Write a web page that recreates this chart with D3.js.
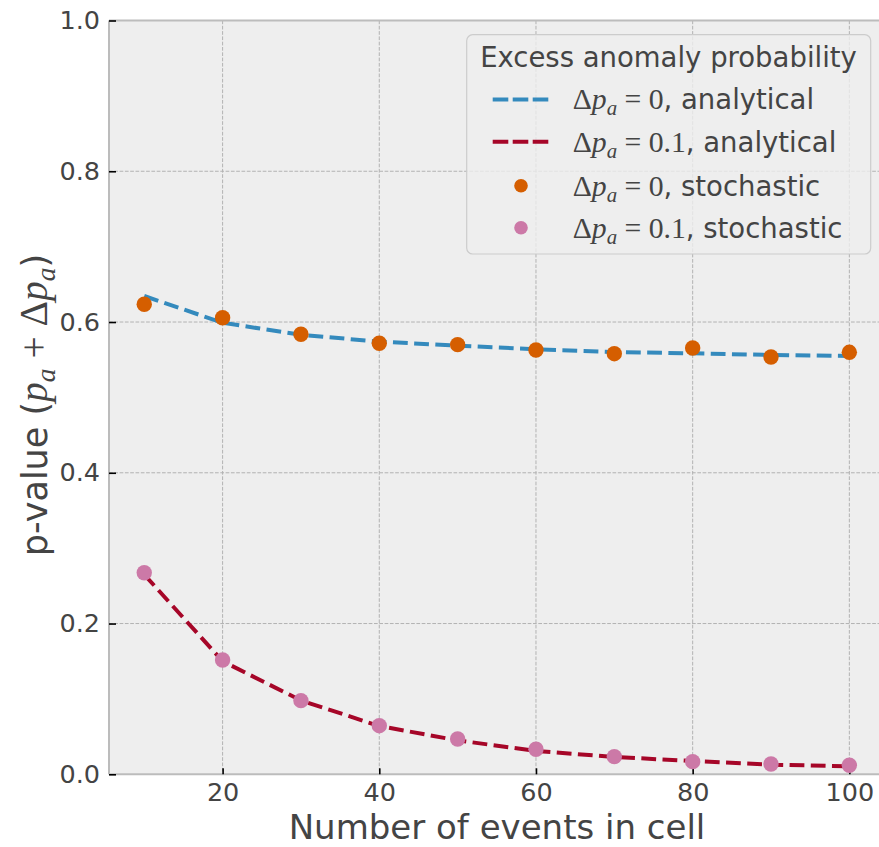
<!DOCTYPE html>
<html>
<head>
<meta charset="utf-8">
<script src="https://cdn.jsdelivr.net/npm/d3@7"></script>
<style>
  html, body { margin: 0; padding: 0; background: #ffffff; }
  svg { display: block; }
  text { font-family: "DejaVu Sans", sans-serif; fill: #444444; }
</style>
</head>
<body>
<svg id="chart" width="879" height="847"></svg>
<script>
// Number of events in a cell
const eventCounts = [10, 20, 30, 40, 50, 60, 70, 80, 90, 100];

// p-values from the analytical expression
const analyticalZero  = [0.6345, 0.599, 0.583, 0.574, 0.5686, 0.5638, 0.5602, 0.5585, 0.5563, 0.555];
const analyticalTenth = [0.265, 0.150, 0.098, 0.064, 0.045, 0.031, 0.023, 0.0176, 0.0128, 0.0106];

// p-values from the stochastic simulation
const stochasticZero  = [0.6235, 0.6057, 0.5837, 0.5718, 0.570, 0.5629, 0.558, 0.5655, 0.5536, 0.5598];
const stochasticTenth = [0.2674, 0.1516, 0.0977, 0.0645, 0.0468, 0.0332, 0.0234, 0.0168, 0.0137, 0.012];

const xTicks = [20, 40, 60, 80, 100];
const yTicks = [0.0, 0.2, 0.4, 0.6, 0.8, 1.0];

const legendTitle = "Excess anomaly probability";
const legendItems = [
  { kind: "line",   color: "#348ABD", delta: "0",   method: "analytical" },
  { kind: "line",   color: "#A60628", delta: "0.1", method: "analytical" },
  { kind: "marker", color: "#D55E00", delta: "0",   method: "stochastic" },
  { kind: "marker", color: "#CC79A7", delta: "0.1", method: "stochastic" }
];

const svg = d3.select("#chart");
const plotLeft = 109, plotRight = 884.6, plotTop = 20.5, plotBottom = 774.3;

const x = d3.scaleLinear().domain([5.5, 104.5]).range([plotLeft, plotRight]);
const y = d3.scaleLinear().domain([0, 1]).range([plotBottom, plotTop]);

// Axes background
svg.append("rect")
  .attr("x", plotLeft).attr("y", plotTop)
  .attr("width", plotRight - plotLeft).attr("height", plotBottom - plotTop)
  .attr("fill", "#eeeeee");

// Grid
const grid = svg.append("g")
  .attr("stroke", "#b2b2b2").attr("stroke-width", 1)
  .attr("stroke-dasharray", "3.7 1.6");
grid.selectAll(".gx").data(xTicks).enter().append("line")
  .attr("x1", d => x(d)).attr("x2", d => x(d))
  .attr("y1", plotTop).attr("y2", plotBottom);
grid.selectAll(".gy").data(yTicks.filter(d => d > 0 && d < 1)).enter().append("line")
  .attr("x1", plotLeft).attr("x2", plotRight)
  .attr("y1", d => y(d)).attr("y2", d => y(d));

// Spines
const spine = (x1, x2, y1, y2) => svg.append("line")
  .attr("x1", x1).attr("x2", x2).attr("y1", y1).attr("y2", y2)
  .attr("stroke", "#bcbcbc").attr("stroke-width", 2);
spine(plotLeft, plotRight, plotTop, plotTop);
spine(plotLeft, plotRight, plotBottom, plotBottom);
spine(plotLeft, plotLeft, plotTop, plotBottom);

// Axes with inward ticks
const xAxis = svg.append("g").attr("transform", `translate(0,${plotBottom})`)
  .call(d3.axisBottom(x).tickValues(xTicks).tickFormat(d3.format("d"))
    .tickSize(-6).tickPadding(8.4));
const yAxis = svg.append("g").attr("transform", `translate(${plotLeft},0)`)
  .call(d3.axisLeft(y).tickValues(yTicks).tickFormat(d3.format(".1f"))
    .tickSize(-7).tickPadding(9));
[xAxis, yAxis].forEach(g => {
  g.select(".domain").remove();
  g.selectAll(".tick line").attr("stroke", "#000000").attr("stroke-width", 1.6);
  g.selectAll(".tick text")
    .attr("fill", "#444444")
    .style("font-family", "DejaVu Sans")
    .style("font-size", "25.5px");
});

// Series
const pairs = vals => eventCounts.map((c, i) => [c, vals[i]]);
const line = d3.line().x(d => x(d[0])).y(d => y(d[1]));

const plot = svg.append("g");
plot.append("path").datum(pairs(analyticalZero))
  .attr("d", line).attr("fill", "none")
  .attr("stroke", "#348ABD").attr("stroke-width", 4)
  .attr("stroke-dasharray", "14.8 6.4");
plot.append("path").datum(pairs(analyticalTenth))
  .attr("d", line).attr("fill", "none")
  .attr("stroke", "#A60628").attr("stroke-width", 4)
  .attr("stroke-dasharray", "14.8 6.4");
plot.selectAll(".sz").data(pairs(stochasticZero)).enter().append("circle")
  .attr("cx", d => x(d[0])).attr("cy", d => y(d[1])).attr("r", 7.7)
  .attr("fill", "#D55E00");
plot.selectAll(".st").data(pairs(stochasticTenth)).enter().append("circle")
  .attr("cx", d => x(d[0])).attr("cy", d => y(d[1])).attr("r", 7.7)
  .attr("fill", "#CC79A7");

// Mathtext-like label pieces: Δp_a = value
const mathFont = "Liberation Serif";
function appendDeltaP(t, size, value) {
  t.append("tspan").text("Δ").style("font-family", mathFont).style("font-size", size * 1.08 + "px");
  t.append("tspan").text("p").style("font-family", mathFont).style("font-style", "italic")
    .style("font-size", size * 1.08 + "px");
  t.append("tspan").text("a").style("font-family", mathFont).style("font-style", "italic")
    .style("font-size", size * 0.76 + "px").attr("dy", size * 0.22);
  t.append("tspan").text(" = " + value).style("font-family", mathFont)
    .style("font-size", size * 1.08 + "px").attr("dy", -size * 0.22);
}

// Legend
const lg = svg.append("g");
lg.append("rect")
  .attr("x", 466.7).attr("y", 34.7).attr("width", 404).attr("height", 219.3)
  .attr("rx", 6).attr("fill", "#eeeeee").attr("fill-opacity", 0.8)
  .attr("stroke", "#cccccc").attr("stroke-width", 1.2);
lg.append("text").attr("x", 668.5).attr("y", 66.7).attr("text-anchor", "middle")
  .style("font-size", "27.5px").text(legendTitle);

const rowY = [99.5, 141.7, 185.7, 227.7];
legendItems.forEach((it, i) => {
  const cy = rowY[i];
  if (it.kind === "line") {
    lg.append("line").attr("x1", 492.7).attr("x2", 548.3).attr("y1", cy).attr("y2", cy)
      .attr("stroke", it.color).attr("stroke-width", 4)
      .attr("stroke-dasharray", "15.6 4.4");
  } else {
    lg.append("circle").attr("cx", 521).attr("cy", cy).attr("r", 6.8).attr("fill", it.color);
  }
  const t = lg.append("text").attr("x", 572.7).attr("y", cy + 9.8).style("font-size", "27.5px");
  appendDeltaP(t, 27.5, it.delta);
  t.append("tspan").text(", " + it.method);
});

// Axis titles
svg.append("text").attr("x", 497).attr("y", 838.5).attr("text-anchor", "middle")
  .style("font-size", "34px").text("Number of events in cell");

const yl = svg.append("text")
  .attr("transform", "translate(47,405) rotate(-90)")
  .attr("text-anchor", "middle").style("font-size", "35px");
yl.append("tspan").text("p-value (");
yl.append("tspan").text("p").style("font-family", mathFont).style("font-style", "italic").style("font-size", "39.5px");
yl.append("tspan").text("a").style("font-family", mathFont).style("font-style", "italic").style("font-size", "27.5px").attr("dy", 8);
yl.append("tspan").text(" + Δ").style("font-family", mathFont).style("font-size", "39.5px").attr("dy", -8);
yl.append("tspan").text("p").style("font-family", mathFont).style("font-style", "italic").style("font-size", "39.5px");
yl.append("tspan").text("a").style("font-family", mathFont).style("font-style", "italic").style("font-size", "27.5px").attr("dy", 8);
yl.append("tspan").text(")").attr("dy", -8);
</script>
</body>
</html>
